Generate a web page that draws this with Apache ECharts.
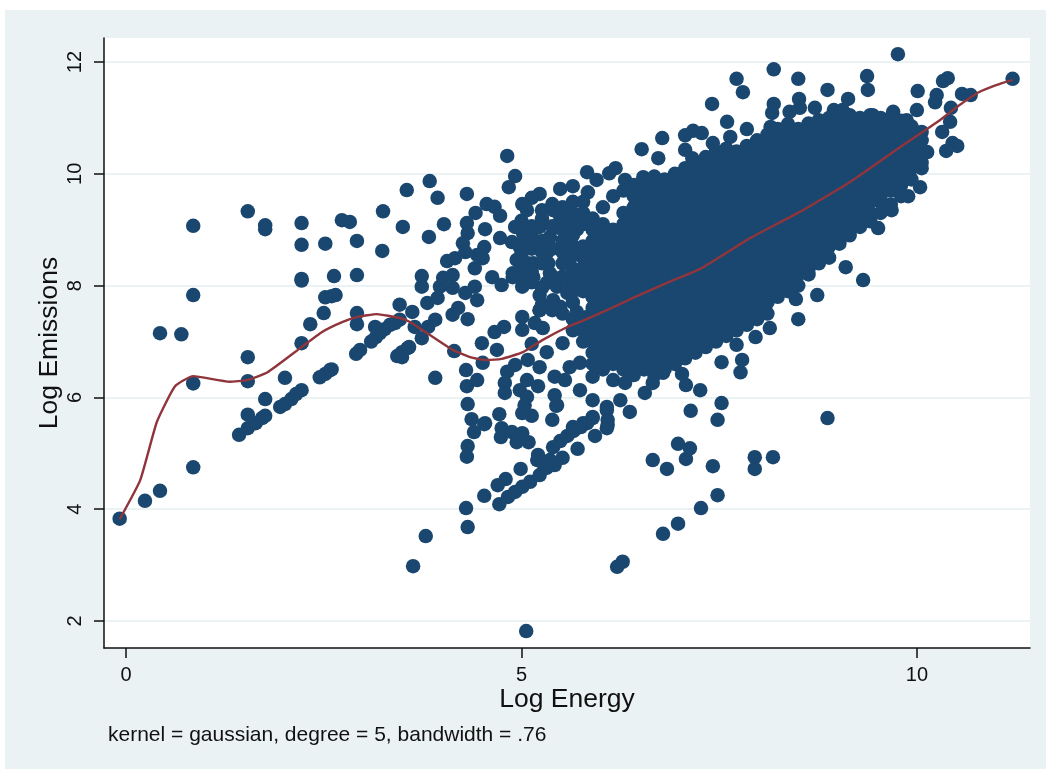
<!DOCTYPE html>
<html><head><meta charset="utf-8">
<style>html,body{margin:0;padding:0;background:#fff}#c{width:1046px;height:769px}</style>
<script src="https://cdn.jsdelivr.net/npm/echarts@6/dist/echarts.min.js"></script>
</head><body><div id="c"></div>
<script>
const xTicks = [0, 5, 10];
const yTicks = [2, 4, 6, 8, 10, 12];
const xTitle = 'Log Energy';
const yTitle = 'Log Emissions';
const noteText = 'kernel = gaussian, degree = 5, bandwidth = .76';

const leftPoints = [[-.08,3.83],[.24,4.15],[.43,4.33],[.43,7.15],[.70,7.13],[.85,9.07],[.85,7.83],[.85,6.25],[.85,4.75],
[1.54,9.33],[1.76,9.08],[1.76,9.01],[1.54,6.72],[1.54,6.29],[2.22,9.12],[2.22,8.73],[2.22,8.12],[2.22,8.09],[2.52,8.75],[2.63,8.17],[2.73,9.17],[2.83,9.14],[2.92,8.8],[2.92,8.19],[3.25,9.33],[3.24,8.62],
[2.52,7.79],[2.6,7.81],[2.65,7.83],[2.5,7.51],[2.33,7.31],[2.22,6.97],[2.92,7.51],[2.92,7.31],[2.01,6.35],[1.76,5.97],[1.54,5.69],
[1.43,5.33],[1.54,5.45],[1.64,5.54],[1.72,5.63],[1.76,5.67],[1.95,5.83],[2.01,5.88],[2.09,5.97],[2.15,6.06],[2.22,6.13],
[2.45,6.36],[2.52,6.42],[2.58,6.49],[2.6,6.5],[2.91,6.78],[2.96,6.85],[3.1,7.0],[3.16,7.08],[3.21,7.15],[3.27,7.22],[3.34,7.3],[3.4,7.33],[3.15,7.26],
[3.43,6.74],[3.49,6.81],[3.56,6.88]];

const midPoints = [[3.55,9.71],[3.84,9.87],[3.94,9.57],[4.31,9.64],[4.82,10.32],[4.92,9.96],[4.84,9.76],[3.50,9.05],[4.02,9.10],[3.83,8.87],
[4.42,9.30],[4.56,9.46],[4.66,9.41],[4.73,9.25],[4.54,9.01],[4.31,9.12],[4.32,8.94],[4.26,8.76],[4.53,8.69],[4.51,8.49],[4.06,8.44],[4.16,8.49],[4.29,8.60],[4.44,8.55],[4.41,8.31],
[3.74,8.17],[3.74,7.98],[4.01,8.14],[4.13,8.19],[3.97,7.98],[3.81,7.69],[3.94,7.78],[4.41,7.98],[4.44,7.74],[4.29,7.87],[4.13,7.96],[4.63,8.15],[4.75,8.01],[4.89,8.15],[5.01,7.98],[4.73,8.85],[4.88,8.78],
[5.23,9.64],[5.13,9.57],[5.01,9.46],[5.49,9.73],[5.65,9.78],[5.84,9.67],[5.95,9.89],[5.83,10.03],[6.11,10.01],[6.19,10.10],[6.31,9.89],[6.52,10.44],[6.73,10.28],[6.54,9.94],[6.78,10.64],[7.07,10.69],[7.07,10.43],[7.16,10.28],
[4.92,9.05],[5.15,9.0],[5.26,9.35],[5.40,9.35],[5.58,9.23],[5.45,9.05],[5.76,9.23],[5.70,9.0],[5.15,8.76],[5.32,8.58],[4.94,8.46],[5.08,8.40],[5.15,8.15],[4.89,8.22],[5.36,8.22],[5.23,7.83],[5.40,7.74],[5.23,7.56],[5.49,7.62],[5.58,8.10],[5.70,8.28],[5.76,7.98],[5.52,8.40],[5.90,9.12],[5.95,8.87],[5.83,8.69],[5.83,8.40],[5.95,8.28],[5.90,7.80],[5.83,7.44],[5.70,7.53],
[5.02,8.94],[5.36,8.87],[5.58,8.87],[5.49,9.23],[5.07,9.35],[5.23,9.05],[4.98,8.69],[5.15,8.40],[5.34,8.40],[5.70,8.58],[5.61,8.46],[5.45,7.98],[5.32,8.05],[5.58,7.87],[5.74,8.22],
[5.0,8.16],[5.0,8.36],[5.0,8.56],[5.0,8.76],[5.0,9.16],[5.13,8.06],[5.13,8.26],[5.13,8.66],[5.13,8.86],[5.13,9.06],[5.26,7.66],[5.26,7.96],[5.26,8.4],[5.26,8.6],[5.26,8.8],[5.26,9.2],[5.39,7.56],[5.39,8.16],[5.39,8.66],[5.39,9.06],[5.39,9.46],[5.52,7.5],[5.52,8.16],[5.52,8.6],[5.52,8.8],[5.52,9.0],[5.52,9.4],[5.65,7.2],[5.65,7.4],[5.65,7.7],[5.65,7.9],[5.65,8.1],[5.65,8.3],[5.65,8.7],[5.65,8.9],[5.65,9.1],[5.65,9.3],[5.65,9.5],[5.78,7.0],[5.78,7.2],[5.78,7.4],[5.78,7.9],[5.78,8.1],[5.78,8.3],[5.78,8.5],[5.78,8.7],[5.78,9.1],[5.78,9.3],[5.78,9.5]];

const lowerPoints = [[3.91,6.35],[4.30,6.49],[4.44,6.31],[4.31,6.20],[4.32,5.88],[4.37,5.61],[4.54,5.54],[4.72,5.70],[4.15,6.83],[4.50,6.97],[4.69,6.85],[4.51,6.62],[4.66,7.17],[4.78,7.26],[5.01,7.44],[5.01,7.21],[5.17,7.33],[5.27,7.24],[5.13,6.96],[5.32,6.81],[5.23,7.56],[5.40,7.71],[5.52,6.97],[5.70,7.26],
[4.13,7.48],[4.32,7.40],[4.20,7.60],[3.91,7.39],[3.82,7.26],[3.74,7.06],[3.58,6.90],[3.65,7.26],[3.62,7.53],[3.46,7.39],[3.46,7.66],[3.49,6.72],
[4.82,6.46],[5.08,6.67],[5.23,6.54],[4.92,6.58],[5.07,6.31],[5.21,6.20],[4.98,6.13],[4.79,6.26],[4.79,6.08],[5.07,6.01],[5.04,5.86],[5.01,5.72],[5.13,5.67],[5.39,5.60],[5.42,6.37],[5.55,6.31],[5.61,6.54],[5.74,6.62],[5.95,6.62],[5.90,6.37],[5.74,6.13],[5.90,5.95],[5.42,6.04],[5.45,5.86],[6.08,5.83],[5.90,5.65],[6.16,6.31],[6.33,6.49],[6.31,6.26],[6.25,5.95],[6.37,5.74],[6.56,6.08],[6.66,6.26],[6.79,6.44],[7.03,6.42],[7.08,6.22],[7.14,5.76],[7.26,6.13],[6.09,5.51],[5.65,5.47],[5.78,5.54],[4.75,5.45],
[7.77,6.45],[7.72,6.94],[7.53,6.63],[7.79,6.67],[7.96,7.08],[4.53,5.52],[4.40,5.38],[4.32,5.13],[4.31,4.94],[4.74,5.29],[4.88,5.38],[5.01,5.36],[4.94,5.20],[5.09,5.20],[5.44,5.85],[7.48,5.60],[7.53,5.90],[8.87,5.63],
[5.40,5.11],[5.49,5.22],[5.58,5.31],[5.66,5.40],[5.75,5.47],[5.83,5.54],[5.90,5.63],
[4.72,4.09],[4.83,4.22],[4.92,4.31],[5.01,4.40],[5.11,4.49],[5.23,4.61],[5.32,4.74],[5.42,4.79],[5.52,4.92],[5.71,5.08],[5.93,5.31],[6.08,5.45],[6.09,5.60],[6.08,5.77],
[5.20,4.88],[5.21,4.97],[5.27,4.83],[5.36,4.88],[4.99,4.72],[4.80,4.54],[4.70,4.43],[4.53,4.24],[4.30,4.02],[4.32,3.68],[3.79,3.52],[3.63,2.98],[5.06,1.82],[6.21,2.97],[6.28,3.06],[6.79,3.56],[6.98,3.74],[7.27,4.02],[7.48,4.25],[7.95,4.93],[7.95,4.72],[8.18,4.93],[7.42,4.77],[7.08,4.90],[7.13,5.09],[6.98,5.17],[6.66,4.88],[6.84,4.72]];

const upperPoints = [[9.76,12.14],[8.19,11.87],[7.72,11.70],[7.80,11.46],[8.50,11.70],[8.87,11.50],[9.37,11.75],[9.38,11.50],[9.13,11.34],[10.01,11.48],[10.33,11.66],[10.39,11.71],[11.21,11.70],[10.57,11.43],[10.68,11.41],[10.25,11.41],[10.23,11.28],[10.0,11.14],[10.43,11.18],[10.42,10.93],[10.32,10.75],[10.45,10.55],[10.51,10.50],[10.37,10.41],[10.13,10.39],[10.04,9.76],[9.89,9.60],[9.68,9.35],[9.51,9.03],[9.10,8.33],[9.32,8.10],[8.74,7.83],[8.47,7.76],[8.50,7.40],[8.14,7.24],
[7.41,11.25],[8.19,11.25],[8.17,11.09],[8.51,11.34],[8.52,11.18],[8.39,11.11],[8.71,11.18],[8.37,10.89],[8.15,10.84],[7.60,10.93],[7.85,10.80],[7.42,10.55],[7.64,10.66],[7.17,10.77],[7.28,10.73],[8.95,11.14],[9.06,11.14],[8.94,10.93],[9.44,11.05],[9.70,11.11],[9.87,10.96]];

const cloudEnergy = [5.9,6.03,6.16,6.29,6.42,6.55,6.68,6.81,6.94,7.07,7.2,7.33,7.46,7.59,7.72,7.85,7.98,8.11,8.24,8.37,8.5,8.63,8.76,8.89,9.02,9.15,9.28,9.41,9.54,9.67,9.8,9.93,10.06];
const cloudEmissions = [
[6.6,6.8,7.0,7.2,7.4,7.6,7.8,8.0,8.2,8.4,8.6,8.8,9.0,9.2],
[6.5,6.7,6.9,7.1,7.3,7.5,7.7,7.9,8.1,8.3,8.5,8.7,8.9,9.1,9.4],
[6.6,6.8,7.0,7.2,7.4,7.6,7.8,8.0,8.2,8.4,8.6,8.8,9.0,9.6],
[6.5,6.7,6.9,7.1,7.3,7.5,7.7,7.9,8.1,8.3,8.5,8.7,8.9,9.1,9.3,9.7],
[6.4,6.6,6.8,7.0,7.2,7.4,7.6,7.8,8.0,8.2,8.4,8.6,8.8,9.0,9.2,9.4,9.6,9.8],
[6.5,6.7,6.9,7.1,7.3,7.5,7.7,7.9,8.1,8.3,8.5,8.7,8.9,9.1,9.3,9.5,9.7,9.9],
[6.4,6.6,6.8,7.0,7.2,7.4,7.6,7.8,8.0,8.2,8.4,8.6,8.8,9.0,9.2,9.4,9.6,9.8,9.95],
[6.5,6.7,6.9,7.1,7.3,7.5,7.7,7.9,8.1,8.3,8.5,8.7,8.9,9.1,9.3,9.5,9.7,9.9],
[6.6,6.8,7.0,7.2,7.4,7.6,7.8,8.0,8.2,8.4,8.6,8.8,9.0,9.2,9.4,9.6,9.8,10.0],
[6.7,6.9,7.1,7.3,7.5,7.7,7.9,8.1,8.3,8.5,8.7,8.9,9.1,9.3,9.5,9.7,9.9,10.1],
[6.8,7.0,7.2,7.4,7.6,7.8,8.0,8.2,8.4,8.6,8.8,9.0,9.2,9.4,9.6,9.8,10.0,10.2],
[6.9,7.1,7.3,7.5,7.7,7.9,8.1,8.3,8.5,8.7,8.9,9.1,9.3,9.5,9.7,9.9,10.1,10.3],
[7.0,7.2,7.4,7.6,7.8,8.0,8.2,8.4,8.6,8.8,9.0,9.2,9.4,9.6,9.8,10.0,10.2,10.4],
[7.1,7.3,7.5,7.7,7.9,8.1,8.3,8.5,8.7,8.9,9.1,9.3,9.5,9.7,9.9,10.1,10.3,10.45],
[7.2,7.4,7.6,7.8,8.0,8.2,8.4,8.6,8.8,9.0,9.2,9.4,9.6,9.8,10.0,10.2,10.4],
[7.3,7.5,7.7,7.9,8.1,8.3,8.5,8.7,8.9,9.1,9.3,9.5,9.7,9.9,10.1,10.3,10.5],
[7.4,7.6,7.8,8.0,8.2,8.4,8.6,8.8,9.0,9.2,9.4,9.6,9.8,10.0,10.2,10.4,10.6],
[7.5,7.7,7.9,8.1,8.3,8.5,8.7,8.9,9.1,9.3,9.5,9.7,9.9,10.1,10.3,10.5,10.7],
[7.8,8.0,8.2,8.4,8.6,8.8,9.0,9.2,9.4,9.6,9.8,10.0,10.2,10.4,10.6,10.8],
[7.9,8.1,8.3,8.5,8.7,8.9,9.1,9.3,9.5,9.7,9.9,10.1,10.3,10.5,10.7,10.82],
[8.0,8.2,8.4,8.6,8.8,9.0,9.2,9.4,9.6,9.8,10.0,10.2,10.4,10.6,10.8],
[8.2,8.3,8.5,8.7,8.9,9.1,9.3,9.5,9.7,9.9,10.1,10.3,10.5,10.7,10.9],
[8.4,8.6,8.8,9.0,9.2,9.4,9.6,9.8,10.0,10.2,10.4,10.6,10.8,10.96],
[8.5,8.7,8.9,9.1,9.3,9.5,9.7,9.9,10.1,10.3,10.5,10.7,10.9,11.0],
[8.75,8.8,9.0,9.2,9.4,9.6,9.8,10.0,10.2,10.4,10.6,10.8,11.0],
[8.9,9.1,9.3,9.5,9.7,9.9,10.1,10.3,10.5,10.7,10.9,11.05],
[9.05,9.2,9.4,9.6,9.8,10.0,10.2,10.4,10.6,10.8,11.0],
[9.15,9.3,9.5,9.7,9.9,10.1,10.3,10.5,10.7,10.9,11.05],
[9.3,9.5,9.6,9.8,10.0,10.2,10.4,10.6,10.8,11.0],
[9.45,9.7,9.9,10.1,10.3,10.5,10.7,10.9,11.0],
[9.6,9.8,10.0,10.2,10.4,10.6,10.8,10.95],
[9.9,10.1,10.3,10.5,10.7,10.85],
[10.1,10.2,10.4,10.6,10.75]
];

const fitLine = [[-.08,3.82],[.18,4.52],[.39,5.56],[.62,6.2],[.85,6.38],[1.31,6.28],[1.53,6.31],[1.79,6.45],[2.22,6.9],[2.48,7.17],[2.74,7.35],[2.93,7.44],[3.17,7.49],[3.46,7.42],[3.59,7.35],[3.88,7.08],[4.13,6.85],[4.35,6.72],[4.54,6.67],[4.75,6.69],[5.02,6.81],[5.27,7.03],[5.58,7.26],[5.74,7.35],[6.08,7.56],[6.41,7.78],[6.84,8.05],[7.26,8.3],[7.89,8.85],[8.52,9.32],[9.15,9.85],[9.79,10.48],[10.29,10.96],[10.54,11.23],[10.77,11.45],[11.01,11.59],[11.21,11.68]];

const cloudPoints = [];
cloudEnergy.forEach((x, i) => cloudEmissions[i].forEach(y => cloudPoints.push([x, y])));
const allPoints = [].concat(leftPoints, midPoints, lowerPoints, upperPoints, cloudPoints);

const FONT = '"Liberation Sans", Arial, sans-serif';
const BG = '#eaf2f3', NAVY = '#1a476f', MAROON = '#90353b', INK = '#111';
const chart = echarts.init(document.getElementById('c'), null, {renderer: 'canvas'});
chart.setOption({
  animation: false,
  backgroundColor: '#fff',
  graphic: [
    {type: 'rect', z: -10, shape: {x: 5, y: 10, width: 1041, height: 759}, style: {fill: BG}},
    {type: 'text', left: 108, top: 725, style: {text: noteText, font: '21px ' + FONT, fill: INK}}
  ],
  grid: {left: 104, top: 38, width: 926, height: 610, show: true, backgroundColor: '#fff', borderWidth: 0},
  xAxis: {
    type: 'value', min: -0.278, max: 11.43,
    name: xTitle, nameLocation: 'middle', nameGap: 38, nameMoveOverlap: false,
    nameTextStyle: {fontFamily: FONT, fontSize: 26.5, color: INK},
    axisLine: {onZero: false, lineStyle: {color: '#111', width: 1.5}},
    axisTick: {length: 10, customValues: xTicks, lineStyle: {color: '#111', width: 1.5}},
    axisLabel: {customValues: xTicks, fontFamily: FONT, fontSize: 20, color: INK, margin: 17},
    splitLine: {show: false}
  },
  yAxis: {
    type: 'value', min: 1.517, max: 12.43,
    name: yTitle, nameLocation: 'middle', nameGap: 41, nameMoveOverlap: false,
    nameTextStyle: {fontFamily: FONT, fontSize: 26.5, color: INK},
    axisLine: {onZero: false, lineStyle: {color: '#111', width: 1.5}},
    axisTick: {length: 10, customValues: yTicks, lineStyle: {color: '#111', width: 1.5}},
    axisLabel: {customValues: yTicks, rotate: 90, fontFamily: FONT, fontSize: 20, color: INK, margin: 19},
    splitLine: {show: true, lineStyle: {color: BG, width: 2}}
  },
  series: [
    {type: 'scatter', data: allPoints, symbol: 'circle', symbolSize: 14.5, itemStyle: {color: NAVY, opacity: 1}, silent: true, large: false, z: 3},
    {type: 'line', data: fitLine, showSymbol: false, smooth: 0.15, lineStyle: {color: MAROON, width: 2.4}, silent: true, z: 4}
  ]
});
</script></body></html>
